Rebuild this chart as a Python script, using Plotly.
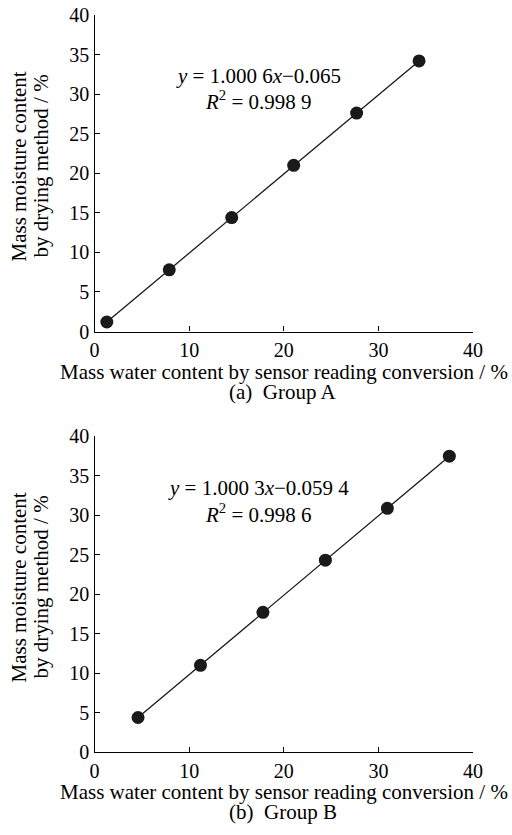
import plotly.graph_objects as go

# Data
xa = [1.3, 7.9, 14.5, 21.05, 27.7, 34.3]
ya = [1.2, 7.8, 14.4, 21.0, 27.6, 34.2]
xb = [4.6, 11.2, 17.8, 24.4, 30.95, 37.5]
yb = [4.4, 11.0, 17.7, 24.3, 30.85, 37.45]
eq_a = ["<i>y</i> = 1.000 6<i>x</i>−0.065", "<i>R</i><sup>2</sup> = 0.998 9"]
eq_b = ["<i>y</i> = 1.000 3<i>x</i>−0.059 4", "<i>R</i><sup>2</sup> = 0.998 6"]
captions = ["(a)  Group A", "(b)  Group B"]
xtitle = "Mass water content by sensor reading conversion / %"
ytitle = ["Mass moisture content", "by drying method / %"]

W, H = 512, 835
FONT = "Liberation Serif"
TS = 21
fig = go.Figure()

x0, x1 = 94.5, 473
panels = [(15, 331.5), (436, 752.3)]

def px(p):
    return p / W

def py(p):
    return 1 - p / H

def note(x, y, text, angle=0):
    fig.add_annotation(x=px(x), y=py(y), xref="paper", yref="paper", text=text,
                       showarrow=False, xanchor="center", yanchor="middle",
                       textangle=angle, font=dict(family=FONT, size=TS, color="black"))

for i, (xs, ys) in enumerate([(xa, ya), (xb, yb)]):
    n = "" if i == 0 else "2"
    fig.add_trace(go.Scatter(
        x=xs, y=ys, mode="lines+markers", xaxis="x" + n, yaxis="y" + n,
        line=dict(color="#1a1a1a", width=1.3),
        marker=dict(color="#1a1a1a", size=13), showlegend=False, cliponaxis=False))
    top, bot = panels[i]
    axcommon = dict(showgrid=False, zeroline=False, showline=True, linecolor="black",
                    linewidth=1.4, ticks="inside", ticklen=5, tickwidth=1.4,
                    tickcolor="black", tickfont=dict(family=FONT, size=20, color="black"),
                    range=[0, 40], automargin=False)
    fig.update_layout(**{
        "xaxis" + n: dict(axcommon, domain=[px(x0), px(x1)], dtick=10, anchor="y" + n),
        "yaxis" + n: dict(axcommon, domain=[py(bot), py(top)], dtick=5, anchor="x" + n),
    })
    eq = eq_a if i == 0 else eq_b
    eqy = [top + 61, top + 85] if i == 0 else [top + 52, top + 77]
    for t, yy in zip(eq, eqy):
        note(258, yy, t)
    note(284, bot + 40, xtitle)
    note(283, bot + 60, captions[i])
    for t, xx in zip(ytitle, [18, 40]):
        note(xx, top + 151.5, t, -90)

fig.update_layout(width=W, height=H, margin=dict(l=0, r=0, t=0, b=0),
                  plot_bgcolor="white", paper_bgcolor="white")
fig.write_html("out.html", config={"displayModeBar": False},
               post_script="document.body.style.margin='0';document.body.style.overflow='hidden';")
